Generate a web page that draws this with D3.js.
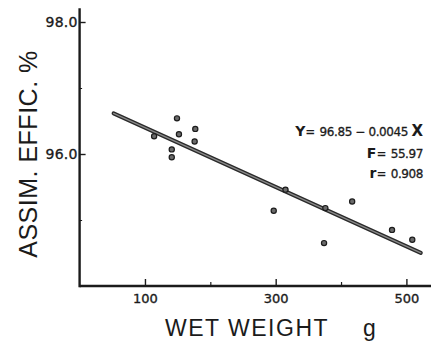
<!DOCTYPE html>
<html>
<head>
<meta charset="utf-8">
<script src="https://cdn.jsdelivr.net/npm/d3@7"></script>
<style>
  html, body { margin: 0; padding: 0; background: #fff; }
  svg { display: block; }
</style>
</head>
<body>
<svg id="chart" width="431" height="343"></svg>
<script>
// Wet weight (g) and assimilation efficiency (%) for each fish
const weights = [114, 149, 152, 177, 176, 141, 141, 297, 315, 376, 374, 417, 478, 509];
const efficiencies = [96.27, 96.54, 96.30, 96.38, 96.19, 96.07, 95.95, 95.14, 95.46, 95.18, 94.65, 95.28, 94.85, 94.70];

// Fitted regression: Y = intercept + slope * X, drawn over this weight range
const fitIntercept = 96.85;
const fitSlope = -0.0045;
const fitRange = [52, 522];
const statF = "55.97";
const statR = "0.908";

// Axis ticks
const xMajorTicks = [100, 300, 500];
const xMinorTicks = [200, 400];
const yMajorTicks = [98, 96];
const yMinorTicks = [97, 95];

const ink = "#1b1b1b";
const svg = d3.select("#chart");

const x = d3.scaleLinear().domain([0, 500]).range([79.6, 406.4]);
const y = d3.scaleLinear().domain([94, 98]).range([286, 22]);

// Axis lines
svg.append("line")
  .attr("x1", x(0)).attr("x2", 431)
  .attr("y1", y(94)).attr("y2", y(94))
  .attr("stroke", ink).attr("stroke-width", 2.4);
svg.append("line")
  .attr("x1", x(0)).attr("x2", x(0))
  .attr("y1", y(98.21)).attr("y2", y(94) + 1.2)
  .attr("stroke", ink).attr("stroke-width", 2.4);

// X axis: major ticks with labels, ticks point into the plot
const xAxis = d3.axisBottom(x)
  .tickValues(xMajorTicks)
  .tickSizeInner(-7)
  .tickSizeOuter(0)
  .tickPadding(8)
  .tickFormat(d3.format("d"));
const gx = svg.append("g").attr("transform", `translate(0,${y(94)})`).call(xAxis);
gx.select(".domain").remove();
gx.selectAll(".tick line").attr("stroke", ink).attr("stroke-width", 1.4);
gx.selectAll(".tick text")
  .attr("fill", ink)
  .attr("stroke", ink).attr("stroke-width", 0.35)
  .style("font-family", "'DejaVu Sans', sans-serif")
  .style("font-size", "13px");

const xMinor = d3.axisBottom(x).tickValues(xMinorTicks).tickSizeInner(-4).tickSizeOuter(0).tickFormat("");
const gxm = svg.append("g").attr("transform", `translate(0,${y(94)})`).call(xMinor);
gxm.select(".domain").remove();
gxm.selectAll(".tick line").attr("stroke", ink).attr("stroke-width", 1.2);

// Y axis: major ticks with labels, ticks point into the plot
const yAxis = d3.axisLeft(y)
  .tickValues(yMajorTicks)
  .tickSizeInner(-6)
  .tickSizeOuter(0)
  .tickPadding(2)
  .tickFormat(d3.format(".1f"));
const gy = svg.append("g").attr("transform", `translate(${x(0)},0)`).call(yAxis);
gy.select(".domain").remove();
gy.selectAll(".tick line").attr("stroke", ink).attr("stroke-width", 1.4);
gy.selectAll(".tick text")
  .attr("fill", ink)
  .attr("stroke", ink).attr("stroke-width", 0.35)
  .style("font-family", "'DejaVu Sans', sans-serif")
  .style("font-size", "14px")
  .style("letter-spacing", "0.2px");

const yMinor = d3.axisLeft(y).tickValues(yMinorTicks).tickSizeInner(-2.5).tickSizeOuter(0).tickFormat("");
const gym = svg.append("g").attr("transform", `translate(${x(0)},0)`).call(yMinor);
gym.select(".domain").remove();
gym.selectAll(".tick line").attr("stroke", ink).attr("stroke-width", 1);

// Regression line (dark edges, lighter core)
const fitLine = fitRange.map(w => [w, fitIntercept + fitSlope * w]);
const lineGen = d3.line().x(d => x(d[0])).y(d => y(d[1]));
svg.append("path").datum(fitLine)
  .attr("d", lineGen)
  .attr("fill", "none").attr("stroke", "#2a2a2a")
  .attr("stroke-width", 4).attr("stroke-linecap", "round");
svg.append("path").datum(fitLine)
  .attr("d", lineGen)
  .attr("fill", "none").attr("stroke", "#8a8a8a")
  .attr("stroke-width", 1.3).attr("stroke-linecap", "round");

// Observations
svg.append("g").selectAll("circle")
  .data(weights.map((w, i) => [w, efficiencies[i]]))
  .join("circle")
  .attr("cx", d => x(d[0]))
  .attr("cy", d => y(d[1]))
  .attr("r", 2.6)
  .attr("fill", "#6a6a6a")
  .attr("stroke", ink)
  .attr("stroke-width", 1.2);

// Regression statistics
const statFont = "'DejaVu Sans', sans-serif";
function statLine(yPos, symbol, value, trailing) {
  const t = svg.append("text")
    .attr("x", 423).attr("y", yPos)
    .attr("text-anchor", "end")
    .attr("fill", ink)
    .style("font-family", statFont);
  t.append("tspan").text(symbol).style("font-size", "14px").style("font-weight", "bold");
  t.append("tspan").text("= ").style("font-size", "12px").style("font-weight", "bold");
  t.append("tspan").text(value)
    .attr("stroke", ink).attr("stroke-width", 0.3)
    .style("font-size", "12px").style("letter-spacing", "-0.4px");
  if (trailing) {
    t.append("tspan").text(trailing).style("font-size", "15px").style("font-weight", "bold");
  }
  return t;
}
statLine(136, "Y", `${fitIntercept} \u2212 ${Math.abs(fitSlope)} `, "X");
statLine(158, "F", statF);
statLine(178, "r", statR);

// Axis titles
svg.append("text")
  .attr("transform", "translate(37,154) rotate(-90)")
  .attr("text-anchor", "middle")
  .attr("fill", ink)
  .style("font-family", "'Liberation Sans', Arial, sans-serif")
  .style("font-size", "25px")
  .style("letter-spacing", "0.5px")
  .text("ASSIM.  EFFIC.  %");

svg.append("text")
  .attr("x", 165).attr("y", 336)
  .attr("fill", ink)
  .style("font-family", "'Liberation Sans', Arial, sans-serif")
  .style("font-size", "23px")
  .style("letter-spacing", "1.5px")
  .text("WET  WEIGHT");
svg.append("text")
  .attr("x", 363).attr("y", 336)
  .attr("fill", ink)
  .style("font-family", "'Liberation Sans', Arial, sans-serif")
  .style("font-size", "23px")
  .text("g");
</script>
</body>
</html>
